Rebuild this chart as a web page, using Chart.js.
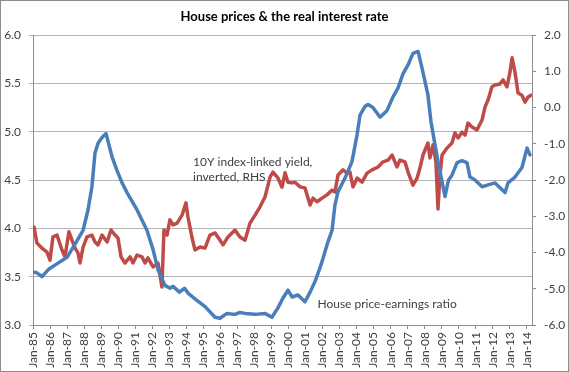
<!DOCTYPE html>
<html>
<head>
<meta charset="utf-8">
<script src="https://cdn.jsdelivr.net/npm/chart.js@4.4.0/dist/chart.umd.min.js"></script>
<style>
  html, body { margin: 0; padding: 0; background: #fff; }
  #wrap { width: 569px; height: 372px; box-sizing: border-box; border: 1px solid #8c8c8c; }
  #wrap canvas { display: block; }
</style>
</head>
<body>
<div id="wrap"><canvas id="housePriceChart" width="567" height="370"></canvas></div>
<script>
// House price-earnings ratio (left axis)
const priceYears = [
  1985.00, 1985.23, 1985.53, 1985.94, 1986.47, 1987.00, 1987.58, 1987.94, 1988.23, 1988.46,
  1988.64, 1988.82, 1989.05, 1989.29, 1989.64, 1989.93, 1990.23, 1990.52, 1991.11, 1991.69,
  1992.05, 1992.34, 1992.75, 1993.04, 1993.22, 1993.60, 1993.90, 1994.10, 1994.51, 1995.10,
  1995.69, 1995.98, 1996.39, 1996.86, 1997.15, 1997.45, 1998.04, 1998.62, 1999.03, 1999.39,
  1999.68, 1999.97, 2000.21, 2000.56, 2000.97, 2001.27, 2001.56, 2001.85, 2002.03, 2002.32,
  2002.56, 2002.73, 2002.91, 2003.32, 2003.73, 2004.03, 2004.20, 2004.49, 2004.67, 2004.96,
  2005.38, 2005.79, 2006.14, 2006.43, 2006.73, 2007.02, 2007.31, 2007.61, 2007.84, 2008.19,
  2008.37, 2008.61, 2008.78, 2009.02, 2009.19, 2009.40, 2009.60, 2009.90, 2010.19, 2010.48,
  2010.66, 2010.95, 2011.37, 2011.72, 2012.13, 2012.42, 2012.72, 2012.89, 2013.30, 2013.71,
  2014.01, 2014.18
];
const priceEarnings = [
  3.55, 3.54, 3.50, 3.58, 3.64, 3.70, 3.87, 3.98, 4.19, 4.43,
  4.78, 4.88, 4.94, 4.98, 4.74, 4.60, 4.47, 4.37, 4.19, 3.98,
  3.78, 3.57, 3.41, 3.38, 3.40, 3.34, 3.38, 3.33, 3.27, 3.19,
  3.08, 3.07, 3.12, 3.11, 3.13, 3.12, 3.11, 3.12, 3.08, 3.18,
  3.28, 3.36, 3.29, 3.31, 3.24, 3.34, 3.45, 3.59, 3.69, 3.86,
  3.98, 4.24, 4.38, 4.52, 4.69, 4.97, 5.17, 5.26, 5.28, 5.25,
  5.15, 5.22, 5.36, 5.45, 5.60, 5.69, 5.81, 5.83, 5.66, 5.38,
  5.10, 4.86, 4.69, 4.48, 4.33, 4.50, 4.55, 4.68, 4.70, 4.68,
  4.53, 4.50, 4.43, 4.45, 4.47, 4.42, 4.37, 4.47, 4.53, 4.63,
  4.83, 4.76
];

// 10Y index-linked yield, inverted (right axis)
const yieldYears = [
  1985.06, 1985.23, 1985.53, 1985.82, 1986.00, 1986.17, 1986.41, 1986.70, 1986.88, 1987.11,
  1987.29, 1987.47, 1987.64, 1987.76, 1987.94, 1988.17, 1988.46, 1988.64, 1988.82, 1989.05,
  1989.35, 1989.58, 1989.82, 1989.99, 1990.17, 1990.40, 1990.70, 1990.87, 1991.11, 1991.40,
  1991.58, 1991.75, 1992.05, 1992.34, 1992.57, 1992.69, 1992.87, 1993.04, 1993.22, 1993.46,
  1993.75, 1993.98, 1994.10, 1994.34, 1994.51, 1994.81, 1995.10, 1995.39, 1995.69, 1995.98,
  1996.16, 1996.45, 1996.86, 1997.15, 1997.45, 1997.74, 1998.04, 1998.33, 1998.62, 1998.92,
  1999.09, 1999.39, 1999.62, 1999.80, 1999.97, 2000.21, 2000.38, 2000.68, 2000.97, 2001.27,
  2001.44, 2001.68, 2001.97, 2002.26, 2002.56, 2002.73, 2002.91, 2003.20, 2003.44, 2003.61,
  2003.79, 2004.03, 2004.32, 2004.61, 2004.91, 2005.26, 2005.55, 2005.85, 2006.08, 2006.37,
  2006.55, 2006.84, 2007.02, 2007.31, 2007.55, 2007.72, 2007.90, 2008.19, 2008.31, 2008.49,
  2008.66, 2008.78, 2008.90, 2009.02, 2009.31, 2009.60, 2009.78, 2009.96, 2010.19, 2010.37,
  2010.54, 2010.78, 2011.07, 2011.37, 2011.54, 2011.72, 2011.95, 2012.13, 2012.42, 2012.60,
  2012.83, 2013.01, 2013.13, 2013.30, 2013.48, 2013.71, 2013.89, 2014.07, 2014.24
];
const yieldInverted = [
  -3.30, -3.74, -3.88, -3.99, -4.21, -3.57, -3.52, -3.93, -4.12, -3.43,
  -3.66, -3.88, -4.01, -4.29, -3.85, -3.57, -3.52, -3.71, -3.79, -3.52,
  -3.71, -3.38, -3.52, -3.60, -4.12, -4.29, -4.12, -4.29, -4.07, -4.12,
  -4.29, -4.15, -4.40, -4.29, -4.95, -3.38, -3.52, -3.10, -3.24, -3.19,
  -2.97, -2.63, -3.02, -3.60, -3.93, -3.85, -3.88, -3.52, -3.46, -3.66,
  -3.79, -3.57, -3.38, -3.57, -3.66, -3.19, -2.97, -2.74, -2.47, -1.92,
  -1.78, -1.95, -2.20, -1.80, -2.06, -2.08, -2.06, -2.19, -2.22, -2.69,
  -2.50, -2.60, -2.50, -2.41, -2.28, -2.33, -1.86, -1.72, -1.81, -1.78,
  -2.19, -1.95, -2.06, -1.81, -1.72, -1.64, -1.50, -1.45, -1.31, -1.64,
  -1.45, -1.50, -1.78, -2.14, -1.95, -1.67, -1.31, -0.98, -1.39, -1.03,
  -1.50, -2.80, -1.86, -1.31, -1.12, -0.98, -0.70, -0.84, -0.68, -0.76,
  -0.43, -0.54, -0.62, -0.34, 0.01, 0.21, 0.57, 0.62, 0.65, 0.76,
  0.57, 0.98, 1.37, 0.98, 0.40, 0.34, 0.15, 0.29, 0.34
];

const FONT = 'Lato, "Open Sans", sans-serif';
const TEXT = '#404040';
const GRID = '#b3b3b3';
const AXIS = '#8c8c8c';

// in-chart labels, placed by axis values
const notes = [
  { lines: ['10Y index-linked yield,', 'inverted, RHS'], year: 1994.4, value: 4.69 },
  { lines: ['House price-earnings ratio'], year: 2001.7, value: 3.22 }
];

const notesPlugin = {
  id: 'notes',
  afterDatasetsDraw(chart) {
    const { ctx, scales } = chart;
    ctx.save();
    ctx.font = '12px ' + FONT;
    ctx.fillStyle = TEXT;
    ctx.textBaseline = 'middle';
    notes.forEach(n => {
      const x = scales.x.getPixelForValue(n.year);
      const y = scales.y.getPixelForValue(n.value);
      n.lines.forEach((line, i) => ctx.fillText(line, x, y + i * 15));
    });
    ctx.restore();
  }
};

const toPoints = (xs, ys) => xs.map((x, i) => ({ x, y: ys[i] }));

new Chart(document.getElementById('housePriceChart').getContext('2d'), {
  type: 'line',
  data: {
    datasets: [{
      label: 'House price-earnings ratio',
      data: toPoints(priceYears, priceEarnings),
      borderColor: '#4a7ebb',
      borderWidth: 3.5,
      yAxisID: 'y'
    }, {
      label: '10Y index-linked yield, inverted',
      data: toPoints(yieldYears, yieldInverted),
      borderColor: '#be4b48',
      borderWidth: 3.5,
      yAxisID: 'y1'
    }]
  },
  options: {
    responsive: false,
    animation: false,
    events: [],
    elements: {
      point: { radius: 0 },
      line: { tension: 0, borderJoinStyle: 'round', borderCapStyle: 'round' }
    },
    layout: { padding: 0 },
    plugins: {
      legend: { display: false },
      tooltip: { enabled: false },
      title: {
        display: true,
        text: 'House prices & the real interest rate',
        color: '#000',
        font: { family: FONT, size: 13, weight: 'bold' },
        padding: { top: 8, bottom: 10.4 }
      }
    },
    scales: {
      x: {
        type: 'linear',
        min: 1985,
        max: 2014.3,
        afterFit: s => { s.height = 46; },
        border: { color: AXIS },
        grid: { drawOnChartArea: false, color: AXIS, tickLength: 4 },
        ticks: {
          stepSize: 1,
          includeBounds: false,
          autoSkip: false,
          maxRotation: 90,
          minRotation: 90,
          padding: 3,
          color: TEXT,
          font: { family: FONT, size: 12 },
          callback: v => 'Jan-' + String(v % 100).padStart(2, '0')
        }
      },
      y: {
        position: 'left',
        min: 3,
        max: 6,
        afterFit: s => { s.width = 32; },
        border: { color: AXIS },
        grid: { color: GRID, tickLength: 4 },
        ticks: {
          stepSize: 0.5,
          padding: 8,
          color: TEXT,
          font: { family: FONT, size: 12 },
          callback: v => v.toFixed(1)
        }
      },
      y1: {
        position: 'right',
        min: -6,
        max: 2,
        afterFit: s => { s.width = 36; },
        border: { color: AXIS },
        grid: { drawOnChartArea: false, color: AXIS, tickLength: 4 },
        ticks: {
          stepSize: 1,
          padding: 8,
          color: TEXT,
          font: { family: FONT, size: 12 },
          callback: v => v.toFixed(1)
        }
      }
    }
  },
  plugins: [notesPlugin]
});
</script>
</body>
</html>
